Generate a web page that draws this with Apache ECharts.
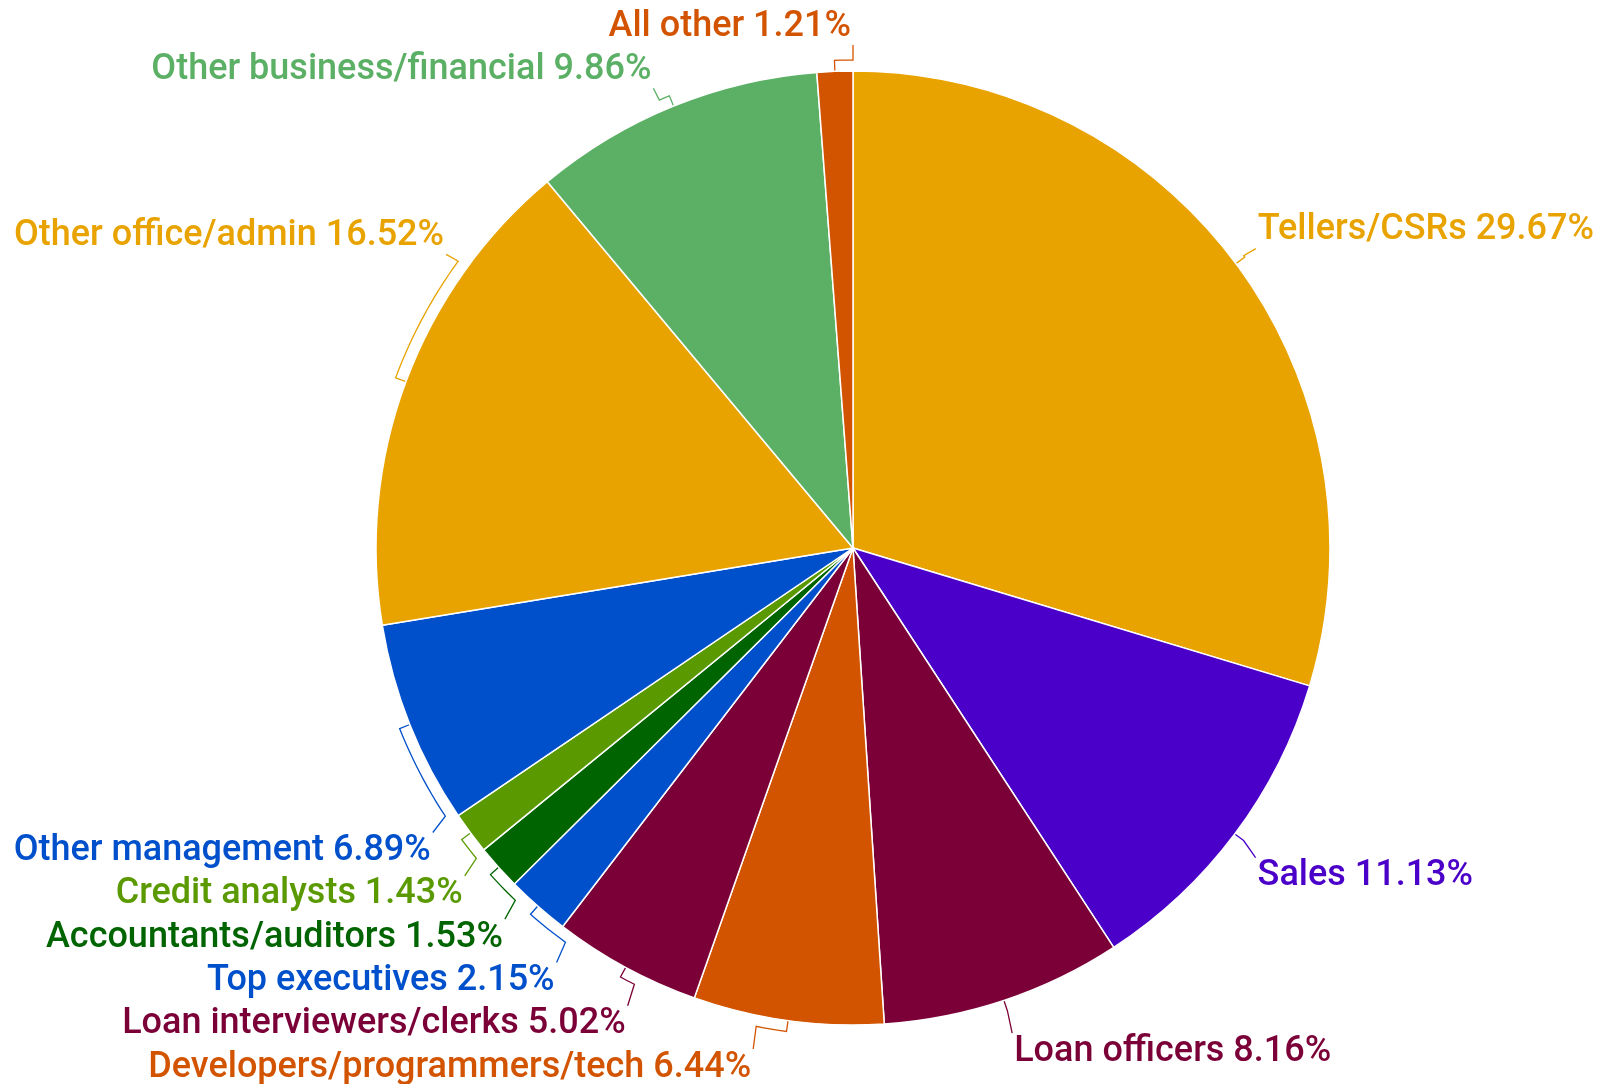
<!DOCTYPE html>
<html>
<head>
<meta charset="utf-8">
<script src="https://cdn.jsdelivr.net/npm/echarts@6/dist/echarts.min.js"></script>
<style>
html,body{margin:0;padding:0;background:#fff;}
#chart{width:1601px;height:1084px;}
</style>
</head>
<body>
<div id="chart"></div>
<script>
const categories = [
  'Tellers/CSRs', 'Sales', 'Loan officers', 'Developers/programmers/tech',
  'Loan interviewers/clerks', 'Top executives', 'Accountants/auditors',
  'Credit analysts', 'Other management', 'Other office/admin',
  'Other business/financial', 'All other'
];
const values = [29.67, 11.13, 8.16, 6.44, 5.02, 2.15, 1.53, 1.43, 6.89, 16.52, 9.86, 1.21];
const colors = [
  '#E9A300', '#4A00C8', '#7B0037', '#D35400',
  '#7B0037', '#0050CC', '#006400',
  '#5A9A00', '#0050CC', '#E9A300',
  '#5BB065', '#D35400'
];

// layout constants (chart geometry, not data)
const W = 1601, H = 1084, CX = 853, CY = 548, R = 477;
const RING = 503, MARGIN_L = 16, MARGIN_R = 9, LINE_H = 43.3, HALF_H = 21.5, BRACKET = 11, TEXT_DY = 5;
const FONT_SIZE = 36, FONT_WEIGHT = 500;

function labelText(i) { return categories[i] + ' ' + values[i].toFixed(2) + '%'; }

// Google-style label placement: the label corner nearest the pie sits on a ring;
// labels slide along the ring to fit the page and to avoid overlapping each other.
const total = values.reduce((a, b) => a + b, 0);
const ctx = document.createElement('canvas').getContext('2d');
ctx.font = FONT_WEIGHT + ' ' + FONT_SIZE + 'px Roboto';
let acc = 0;
const L = values.map((v, i) => {
  const mid = (acc + v / 2) / total * 2 * Math.PI;
  acc += v;
  return { i, mid, w: ctx.measureText(labelText(i)).width, right: Math.sin(mid) >= 0 };
});
L.forEach(o => {
  const cxr = CX + RING * Math.sin(o.mid);
  let cyr = CY - RING * Math.cos(o.mid);
  o.upper = cyr < CY;
  const maxDx = o.right ? (W - MARGIN_R - o.w - CX) : (CX - MARGIN_L - o.w);
  if (Math.abs(cxr - CX) > maxDx) {
    const dy = Math.sqrt(Math.max(0, RING * RING - maxDx * maxDx));
    cyr = CY + (o.upper ? -1 : 1) * dy;
  }
  o.cy = cyr + (o.upper ? -HALF_H : HALF_H);
});
[true, false].forEach(right => {
  const lower = L.filter(o => o.right === right && !o.upper).sort((a, b) => a.cy - b.cy);
  for (let k = 1; k < lower.length; k++) {
    if (lower[k].cy < lower[k - 1].cy + LINE_H) lower[k].cy = lower[k - 1].cy + LINE_H;
  }
  if (lower.length && lower[lower.length - 1].cy > H - HALF_H) {
    lower[lower.length - 1].cy = H - HALF_H;
    for (let k = lower.length - 2; k >= 0; k--) {
      if (lower[k].cy > lower[k + 1].cy - LINE_H) lower[k].cy = lower[k + 1].cy - LINE_H;
    }
  }
  const upper = L.filter(o => o.right === right && o.upper).sort((a, b) => b.cy - a.cy);
  for (let k = 1; k < upper.length; k++) {
    if (upper[k].cy > upper[k - 1].cy - LINE_H) upper[k].cy = upper[k - 1].cy - LINE_H;
  }
  if (upper.length && upper[upper.length - 1].cy < HALF_H) {
    upper[upper.length - 1].cy = HALF_H;
    for (let k = upper.length - 2; k >= 0; k--) {
      if (upper[k].cy < upper[k + 1].cy + LINE_H) upper[k].cy = upper[k + 1].cy + LINE_H;
    }
  }
});
L.forEach(o => {
  const cornerY = o.cy + (o.upper ? HALF_H : -HALF_H);
  const dy = cornerY - CY;
  const dx = Math.sqrt(Math.max(0, RING * RING - dy * dy));
  const cornerX = CX + (o.right ? dx : -dx);
  o.lx = cornerX + (o.right ? 2 : -2);
  let la = Math.atan2(cornerX - CX, CY - cornerY);
  if (la < 0) la += 2 * Math.PI;
  if (o.mid > 1.5 * Math.PI && la < 0.5 * Math.PI) la += 2 * Math.PI;
  const pt = (r, a) => [CX + r * Math.sin(a), CY - r * Math.cos(a)];
  const pts = [pt(R, o.mid), pt(R + BRACKET, o.mid)];
  const n = Math.ceil(Math.abs(la - o.mid) / (Math.PI / 180));
  for (let s = 1; s <= n; s++) pts.push(pt(R + BRACKET, o.mid + (la - o.mid) * s / n));
  pts.push([cornerX, cornerY + TEXT_DY + (o.upper ? -3 : 3)]);
  o.pts = pts;
});

const chart = echarts.init(document.getElementById('chart'));
chart.setOption({
  backgroundColor: '#fff',
  animation: false,
  series: [{
    type: 'pie',
    center: [CX, CY],
    radius: R,
    startAngle: 90,
    clockwise: true,
    avoidLabelOverlap: false,
    data: categories.map((c, i) => ({
      name: c,
      value: values[i],
      itemStyle: { color: colors[i] },
      label: { color: colors[i] },
      labelLine: { lineStyle: { color: colors[i] } }
    })),
    itemStyle: { borderColor: '#fff', borderWidth: 1.5 },
    label: {
      show: true,
      position: 'outside',
      fontFamily: 'Roboto',
      fontSize: FONT_SIZE,
      fontWeight: FONT_WEIGHT,
      overflow: 'none',
      formatter: p => labelText(p.dataIndex)
    },
    labelLine: {
      show: true,
      length: 30,
      length2: 8,
      lineStyle: { width: 1.3 }
    },
    labelLayout: params => {
      const o = L[params.dataIndex];
      return {
        x: o.lx,
        y: o.cy + TEXT_DY,
        align: o.right ? 'left' : 'right',
        verticalAlign: 'middle',
        labelLinePoints: o.pts
      };
    }
  }]
});
</script>
</body>
</html>
